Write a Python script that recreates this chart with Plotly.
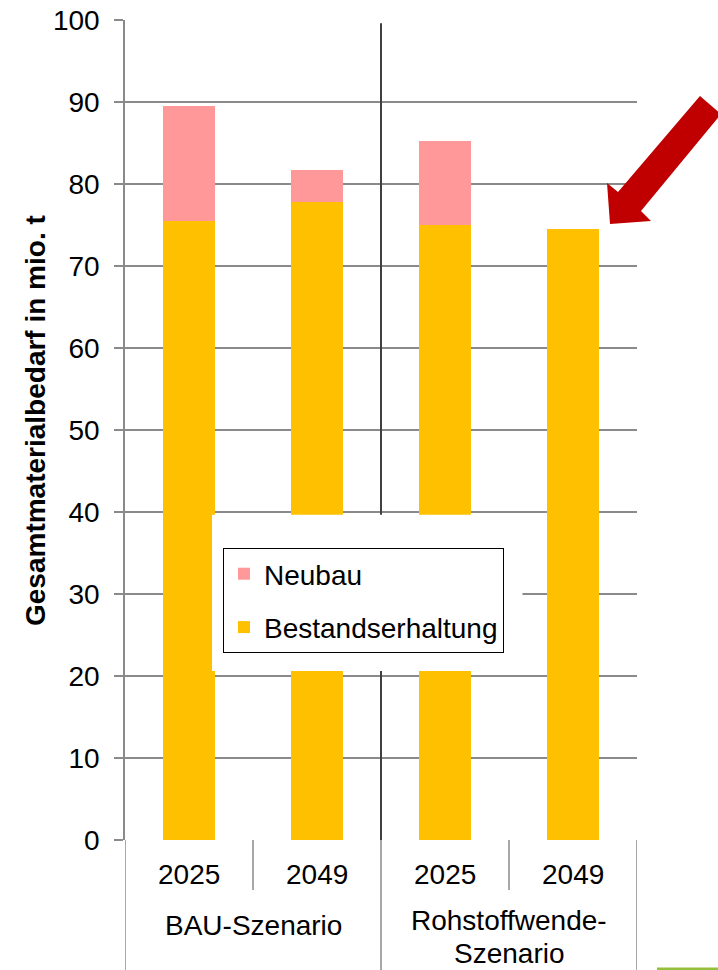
import plotly.graph_objects as go

# ---- data ----
groups = ["BAU-Szenario", "Rohstoffwende-<br>Szenario"]
years = ["2025", "2049", "2025", "2049"]
bestandserhaltung = [75.5, 77.8, 75.0, 74.5]
neubau = [14.0, 3.9, 10.3, 0.0]
y_ticks = list(range(0, 101, 10))

# ---- layout helpers (pixel geometry of the plot area) ----
W, H = 718, 970
L, R, T, B = 125, 81, 20, 130
PW, PH = W - L - R, H - T - B

def px(xp):
    return (xp - L) / PW

def py(yp):
    return (H - B - yp) / PH

x_idx = list(range(len(years)))
FONT = "Liberation Sans, Arial, sans-serif"
GRID = "#8a8a8a"

fig = go.Figure()
fig.add_bar(x=x_idx, y=bestandserhaltung, name="Bestandserhaltung",
            marker=dict(color="#FFC000", line=dict(width=0)), width=0.41,
            legendgroup="b", legendrank=2)
fig.add_bar(x=x_idx, y=neubau, name="Neubau",
            marker=dict(color="#FF9999", line=dict(width=0)), width=0.41,
            legendgroup="n", legendrank=1)

shapes = []
# table lines below the axis
for i in range(len(years) + 1):
    xb = i - 0.5
    full = (i % 2 == 0)
    shapes.append(dict(type="line", xref="x", yref="paper", x0=xb, x1=xb,
                       y0=0, y1=(py(H) if full else py(890)),
                       line=dict(color=GRID, width=1.5)))
# separator between scenarios inside the plot
shapes.append(dict(type="line", xref="x", yref="y", x0=1.5, x1=1.5, y0=0, y1=99.6,
                   line=dict(color="#404040", width=2), layer="above"))
# white box behind the legend
shapes.append(dict(type="rect", xref="x", yref="y", x0=0.18, x1=2.605, y0=20.6, y1=39.65,
                   fillcolor="white", line=dict(width=0), layer="above"))
# red block arrow
pts = [(610, 224), (607, 183), (618, 192), (700, 96), (721, 114), (641, 211), (651, 221)]
path = "M " + " L ".join(f"{px(a):.4f},{py(b):.4f}" for a, b in pts) + " Z"
shapes.append(dict(type="path", xref="paper", yref="paper", path=path,
                   fillcolor="#C00000", line=dict(width=0), layer="above"))
# green line bottom right
shapes.append(dict(type="rect", xref="paper", yref="paper", x0=px(657), x1=px(720),
                   y0=py(970), y1=py(967.5), fillcolor="#96C03C", line=dict(width=0)))

annotations = []
lab_font = dict(size=28, color="black", family=FONT)
for i, yr in enumerate(years):
    annotations.append(dict(x=i, y=py(874), xref="x", yref="paper", text=yr,
                            showarrow=False, yanchor="middle", xanchor="center",
                            font=lab_font))
for g, name in enumerate(groups):
    lines = name.split("<br>")
    first_y = 925 if len(lines) == 1 else 920
    annotations.append(dict(x=2 * g + 0.5, y=py(first_y), xref="x", yref="paper",
                            text=lines[0], showarrow=False, yanchor="middle",
                            xanchor="center", borderpad=0, font=lab_font))
    for extra in lines[1:]:
        annotations.append(dict(x=2 * g + 0.5, y=py(970), xref="x", yref="paper",
                                text=extra, showarrow=False, yanchor="bottom",
                                xanchor="center", borderpad=0, font=lab_font))
annotations.append(dict(x=px(35), y=py(421), xref="paper", yref="paper",
                        text="Gesamtmaterialbedarf in mio. t", textangle=-90,
                        showarrow=False, xanchor="center", yanchor="middle",
                        font=dict(size=28, color="black", family=FONT, weight="bold")))

fig.update_layout(
    width=W, height=H,
    margin=dict(l=L, r=R, t=T, b=B, pad=0, autoexpand=False),
    paper_bgcolor="white", plot_bgcolor="white",
    barmode="stack",
    showlegend=True,
    legend=dict(x=px(223), y=py(548), xanchor="left", yanchor="top",
                traceorder="grouped", tracegroupgap=14,
                bgcolor="white", bordercolor="black", borderwidth=1,
                font=dict(size=28, color="black", family=FONT)),
    xaxis=dict(range=[-0.5, 3.5], showticklabels=False, showgrid=False,
               zeroline=False, ticks="", showline=False, automargin=False),
    yaxis=dict(range=[0, 100], tickvals=y_ticks, showgrid=True, gridcolor=GRID,
               gridwidth=1.5, ticks="outside", ticklen=9, tickcolor=GRID, tickwidth=1.5,
               showline=True, linecolor=GRID, linewidth=1.5, zeroline=False,
               ticklabelstandoff=9, automargin=False,
               tickfont=dict(size=28, color="black", family=FONT)),
    shapes=shapes,
    annotations=annotations,
)

fig.write_html("out.html")
